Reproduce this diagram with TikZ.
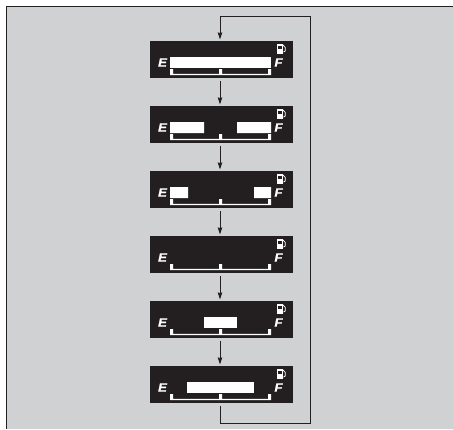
\documentclass[tikz,border=0pt]{standalone}
\usepackage{fontspec}
\setmainfont{Liberation Sans}
\newfontfamily\gaugefont[BoldItalicFeatures={FakeBold=1.2}]{Liberation Sans}
\usetikzlibrary{arrows.meta}
\definecolor{panelgray}{HTML}{D0D1D3}
\definecolor{lcd}{HTML}{231F20}
\tikzset{
  x=1pt,y=-1pt,
  lcdpanel/.style={fill=lcd,draw=none,inner sep=0pt,minimum width=143pt,minimum height=37pt},
  conn/.style={draw=lcd,line width=0.8pt},
  flow/.style={conn,-{Stealth[length=7pt,width=4.5pt,inset=0.5pt]}},
  seg/.style={fill=white,draw=none},
  gauge/.style={font=\gaugefont\bfseries\itshape\fontsize{12}{12}\selectfont,text=white,inner sep=0pt,xscale=1.1}
}
\newcommand{\gaugepanel}[1]{%
  \node[lcdpanel] (p#1) at (221.5,\py+18.5) {};
  \node[gauge] (e#1) at (162.5,\py+21.5) {E};
  \node[gauge] (f#1) at (278.5,\py+21.5) {F};
  % scale bracket
  \fill[white] (170,\py+28) rectangle (173,\py+34)
               (219,\py+28) rectangle (222,\py+34)
               (268,\py+28) rectangle (271,\py+34)
               (170,\py+32.8) rectangle (271,\py+34);
  % fuel pump icon
  \fill[white] (276.5,\py+3) rectangle (283,\py+12.5);
  \fill[lcd] (278,\py+4.5) rectangle (281.5,\py+7.5);
  \draw[white,line width=0.8pt] (283,\py+4) -- (285.3,\py+6.5) -- (285.3,\py+10) -- (283.5,\py+11);
}
\begin{document}
\begin{tikzpicture}
\useasboundingbox (0,0) rectangle (453,429);
\fill[white] (0,0) rectangle (453,429);
\fill[panelgray] (6,6) rectangle (453,429);
\draw[lcd,line width=0.9pt] (6,429) -- (6,6) -- (453,6);

\foreach \py/\n in {41/1,106/2,171/3,236/4,301/5,366/6}{\gaugepanel{\n}}
\fill[seg] (170,57) rectangle (271,68);
\fill[seg] (170,122) rectangle (204,133) (237,122) rectangle (271,133);
\fill[seg] (170,187) rectangle (188,198) (254,187) rectangle (271,198);
\fill[seg] (204,317) rectangle (237,328);
\fill[seg] (187,382) rectangle (254,393);

\coordinate (loopa) at (220,16);
\coordinate (loopb) at (310,16);
\coordinate (loopc) at (310,423);
\coordinate (loopd) at (220,423);
\coordinate (t1) at (220,39.5);
\coordinate (s6) at (220,406);
\draw[flow] (s6) -- (loopd) -- (loopc) -- (loopb) -- (loopa) -- (t1);
\foreach \a/\b/\ya/\yb in {1/2/81/104.5,2/3/146/169.5,3/4/211/234.5,4/5/276/299.5,5/6/341/364.5}{
  \coordinate (out\a) at (220,\ya);
  \coordinate (in\b) at (220,\yb);
  \draw[flow] (out\a) -- (in\b);
}
\end{tikzpicture}
\end{document}
